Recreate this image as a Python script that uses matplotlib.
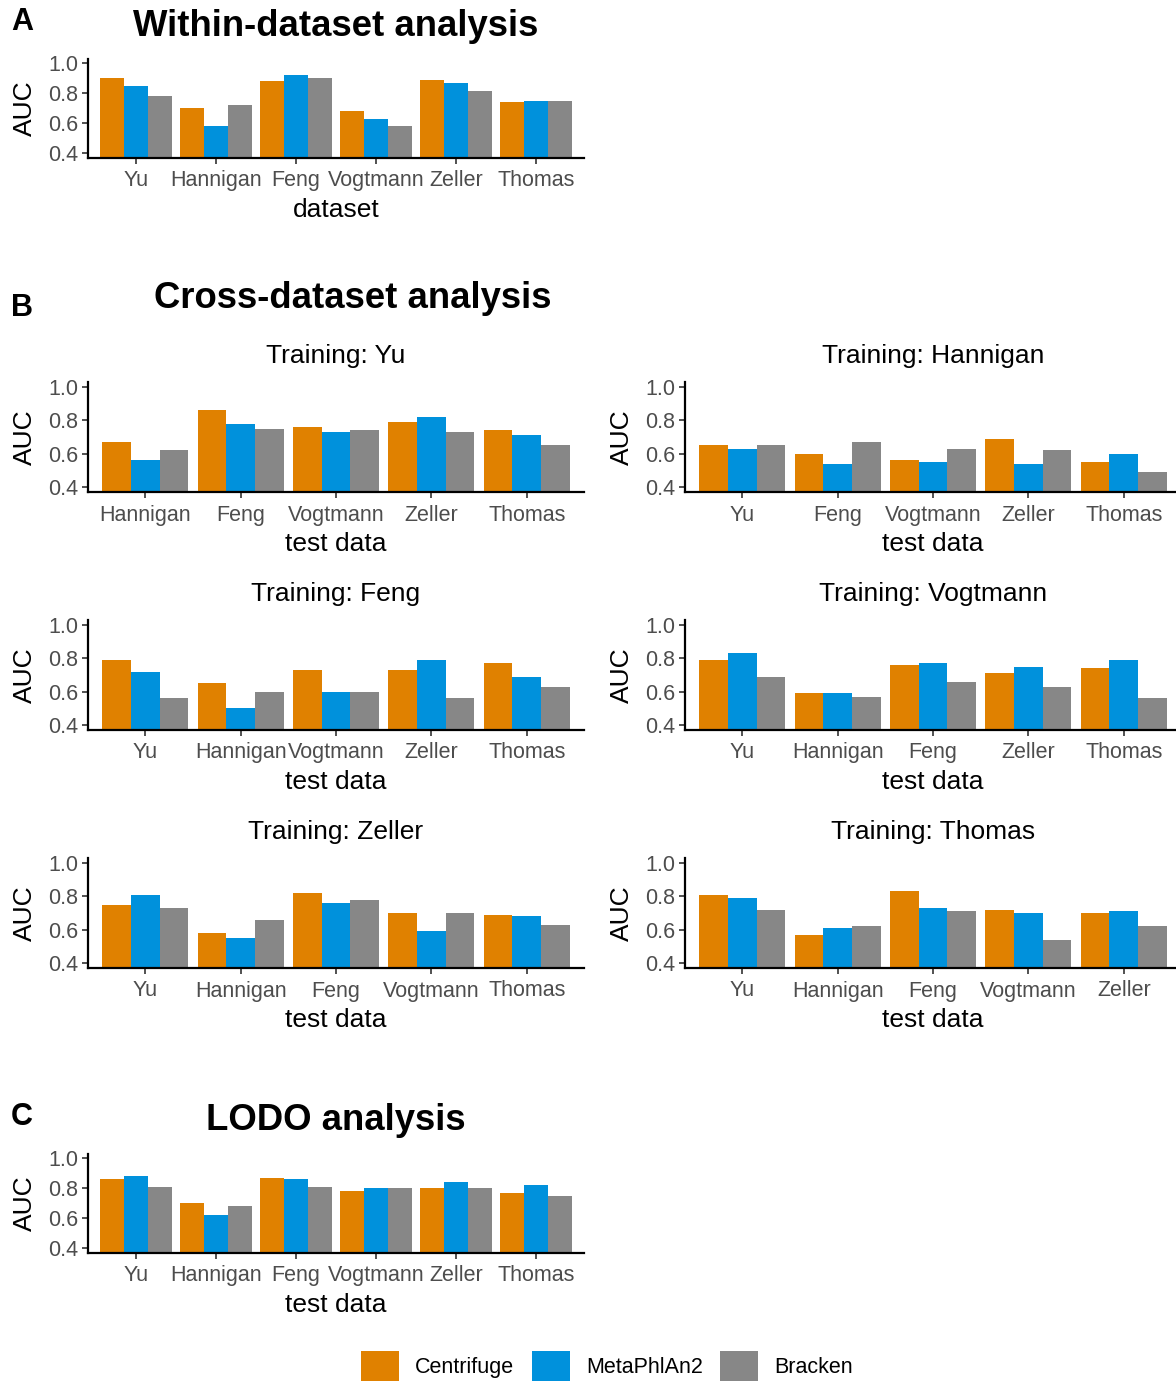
import numpy as np
import matplotlib
matplotlib.use('Agg')
import matplotlib.pyplot as plt
from matplotlib.patches import Patch

plt.rcParams['font.family'] = ['Liberation Sans', 'DejaVu Sans']

# ==========================================
# DATA (AUC values)
# ==========================================
methods = ["Centrifuge", "MetaPhlAn2", "Bracken"]
colors = ['#E08100', '#0091DC', '#878787']

all_sets = ["Yu", "Hannigan", "Feng", "Vogtmann", "Zeller", "Thomas"]

# A: within-dataset
within_centrifuge = [0.90, 0.70, 0.88, 0.68, 0.89, 0.74]
within_metaphlan = [0.85, 0.58, 0.92, 0.63, 0.87, 0.75]
within_bracken = [0.78, 0.72, 0.90, 0.58, 0.81, 0.75]

# B: cross-dataset, one block per training set
train_yu_test = ["Hannigan", "Feng", "Vogtmann", "Zeller", "Thomas"]
train_yu_centrifuge = [0.67, 0.86, 0.76, 0.79, 0.74]
train_yu_metaphlan = [0.56, 0.78, 0.73, 0.82, 0.71]
train_yu_bracken = [0.62, 0.75, 0.74, 0.73, 0.65]

train_hannigan_test = ["Yu", "Feng", "Vogtmann", "Zeller", "Thomas"]
train_hannigan_centrifuge = [0.65, 0.60, 0.56, 0.69, 0.55]
train_hannigan_metaphlan = [0.63, 0.54, 0.55, 0.54, 0.60]
train_hannigan_bracken = [0.65, 0.67, 0.63, 0.62, 0.49]

train_feng_test = ["Yu", "Hannigan", "Vogtmann", "Zeller", "Thomas"]
train_feng_centrifuge = [0.79, 0.65, 0.73, 0.73, 0.77]
train_feng_metaphlan = [0.72, 0.50, 0.60, 0.79, 0.69]
train_feng_bracken = [0.56, 0.60, 0.60, 0.56, 0.63]

train_vogtmann_test = ["Yu", "Hannigan", "Feng", "Zeller", "Thomas"]
train_vogtmann_centrifuge = [0.79, 0.59, 0.76, 0.71, 0.74]
train_vogtmann_metaphlan = [0.83, 0.59, 0.77, 0.75, 0.79]
train_vogtmann_bracken = [0.69, 0.57, 0.66, 0.63, 0.56]

train_zeller_test = ["Yu", "Hannigan", "Feng", "Vogtmann", "Thomas"]
train_zeller_centrifuge = [0.75, 0.58, 0.82, 0.70, 0.69]
train_zeller_metaphlan = [0.81, 0.55, 0.76, 0.59, 0.68]
train_zeller_bracken = [0.73, 0.66, 0.78, 0.70, 0.63]

train_thomas_test = ["Yu", "Hannigan", "Feng", "Vogtmann", "Zeller"]
train_thomas_centrifuge = [0.81, 0.57, 0.83, 0.72, 0.70]
train_thomas_metaphlan = [0.79, 0.61, 0.73, 0.70, 0.71]
train_thomas_bracken = [0.72, 0.62, 0.71, 0.54, 0.62]

# C: leave-one-dataset-out
lodo_centrifuge = [0.86, 0.70, 0.87, 0.78, 0.80, 0.77]
lodo_metaphlan = [0.88, 0.62, 0.86, 0.80, 0.84, 0.82]
lodo_bracken = [0.81, 0.68, 0.81, 0.80, 0.80, 0.75]

# ==========================================
# FIGURE
# ==========================================
W, H = 1176, 1381
fig = plt.figure(figsize=(W / 100, H / 100), dpi=100)
fig.patch.set_facecolor('white')


def px_axes(x0, y0, x1, y1):
    return fig.add_axes([x0 / W, 1 - y1 / H, (x1 - x0) / W, (y1 - y0) / H])


def ftext(x, y, s, **kw):
    fig.text(x / W, 1 - y / H, s, ha='center', va='center', **kw)


def bar_panel(ax, cats, series, xlabel):
    x = np.arange(1, len(cats) + 1)
    for k, vals in enumerate(series):
        ax.bar(x + (k - 1) * 0.3, vals, width=0.3, bottom=0, color=colors[k], linewidth=0)
    ax.set_xlim(0.4, len(cats) + 0.6)
    ax.set_ylim(0.37, 1.03)
    ax.set_xticks(x)
    ax.set_xticklabels(cats)
    ax.set_yticks([0.4, 0.6, 0.8, 1.0])
    ax.set_yticklabels(['0.4', '0.6', '0.8', '1.0'])
    for side in ['top', 'right']:
        ax.spines[side].set_visible(False)
    for side in ['left', 'bottom']:
        ax.spines[side].set_linewidth(1.6)
        ax.spines[side].set_color('black')
    ax.tick_params(axis='both', length=4, width=1.2, color='#333333',
                   labelsize=15.5, labelcolor='#4D4D4D', pad=3)
    ax.tick_params(axis='x', pad=5)
    ax.set_xlabel(xlabel, fontsize=19, labelpad=5)
    ax.set_ylabel('AUC', fontsize=19, labelpad=8)


# A: within-dataset
ftext(22, 22, 'A', fontsize=22, fontweight='bold')
ftext(336, 26, 'Within-dataset analysis', fontsize=26.3, fontweight='bold')
axA = px_axes(88, 58.5, 584, 157.5)
bar_panel(axA, all_sets, [within_centrifuge, within_metaphlan, within_bracken], 'dataset')

# B: cross-dataset
ftext(22, 308, 'B', fontsize=22, fontweight='bold')
ftext(353, 298, 'Cross-dataset analysis', fontsize=26.3, fontweight='bold')

cross = [
    ("Yu", train_yu_test, [train_yu_centrifuge, train_yu_metaphlan, train_yu_bracken]),
    ("Hannigan", train_hannigan_test, [train_hannigan_centrifuge, train_hannigan_metaphlan, train_hannigan_bracken]),
    ("Feng", train_feng_test, [train_feng_centrifuge, train_feng_metaphlan, train_feng_bracken]),
    ("Vogtmann", train_vogtmann_test, [train_vogtmann_centrifuge, train_vogtmann_metaphlan, train_vogtmann_bracken]),
    ("Zeller", train_zeller_test, [train_zeller_centrifuge, train_zeller_metaphlan, train_zeller_bracken]),
    ("Thomas", train_thomas_test, [train_thomas_centrifuge, train_thomas_metaphlan, train_thomas_bracken]),
]
col_x = [(88, 584), (685, 1181)]
row_y = [(382, 492), (620, 730), (858, 968)]

for idx, (train, cats, series) in enumerate(cross):
    r, c = divmod(idx, 2)
    x0, x1 = col_x[c]
    y0, y1 = row_y[r]
    ax = px_axes(x0, y0, x1, y1)
    bar_panel(ax, cats, series, 'test data')
    ax.set_title(f'Training: {train}', fontsize=19, pad=14)

# C: LODO
ftext(22, 1117, 'C', fontsize=22, fontweight='bold')
ftext(336, 1121, 'LODO analysis', fontsize=26.3, fontweight='bold')
axC = px_axes(88, 1153.5, 584, 1252.5)
bar_panel(axC, all_sets, [lodo_centrifuge, lodo_metaphlan, lodo_bracken], 'test data')

# Legend
handles = [Patch(facecolor=colors[k], edgecolor='none') for k in range(3)]
fig.legend(handles, methods, ncol=3, loc='center', bbox_to_anchor=(607 / W, 1 - 1366 / H),
           frameon=False, fontsize=15.5, handlelength=1.77, handleheight=1.7,
           handletextpad=0.75, columnspacing=0.8)

plt.savefig("out.png", dpi=100)
plt.close()
